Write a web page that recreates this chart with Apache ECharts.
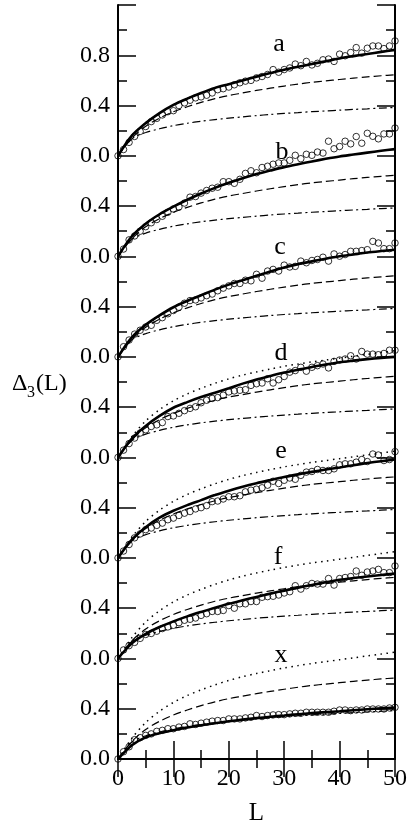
<!DOCTYPE html>
<html><head><meta charset="utf-8">
<script src="https://cdn.jsdelivr.net/npm/echarts@6/dist/echarts.min.js"></script>
<style>html,body{margin:0;padding:0;background:#fff}#c{width:411px;height:831px}</style>
</head><body><div id="c"></div>
<script>
// L values at which the model curves were read (uniform grid)
const L_CURVE = [0, 2.5, 5, 7.5, 10, 12.5, 15, 17.5, 20, 22.5, 25, 27.5, 30, 32.5, 35, 37.5, 40, 42.5, 45, 47.5, 50];
// common reference curves (same in every panel)
const dashDot = [0, 0.135, 0.185, 0.215, 0.24, 0.259, 0.275, 0.288, 0.30, 0.31, 0.32, 0.329, 0.337, 0.344, 0.351, 0.357, 0.363, 0.369, 0.374, 0.38, 0.385];
const dashed  = [0, 0.14, 0.235, 0.30, 0.35, 0.39, 0.425, 0.455, 0.48, 0.50, 0.52, 0.538, 0.555, 0.571, 0.585, 0.596, 0.607, 0.618, 0.628, 0.637, 0.645];
const dotted  = [0, 0.165, 0.29, 0.38, 0.45, 0.505, 0.55, 0.59, 0.625, 0.655, 0.68, 0.703, 0.725, 0.743, 0.76, 0.775, 0.79, 0.805, 0.82, 0.835, 0.85];
// solid fitted curves per panel
const solidA = [0, 0.16, 0.26, 0.34, 0.405, 0.455, 0.50, 0.54, 0.57, 0.60, 0.63, 0.658, 0.685, 0.708, 0.73, 0.753, 0.775, 0.793, 0.81, 0.827, 0.843];
const solidB = [0, 0.16, 0.26, 0.335, 0.395, 0.45, 0.50, 0.545, 0.585, 0.622, 0.655, 0.683, 0.71, 0.733, 0.755, 0.776, 0.795, 0.81, 0.825, 0.84, 0.853];
const solidC = [0, 0.155, 0.255, 0.33, 0.395, 0.445, 0.49, 0.535, 0.575, 0.61, 0.645, 0.68, 0.712, 0.738, 0.76, 0.781, 0.80, 0.815, 0.83, 0.842, 0.853];
const solidD = [0, 0.15, 0.25, 0.33, 0.395, 0.44, 0.48, 0.515, 0.55, 0.587, 0.62, 0.648, 0.675, 0.698, 0.72, 0.739, 0.757, 0.77, 0.782, 0.792, 0.80];
const solidE = [0, 0.145, 0.245, 0.32, 0.375, 0.42, 0.46, 0.50, 0.535, 0.567, 0.595, 0.62, 0.644, 0.665, 0.685, 0.703, 0.72, 0.738, 0.755, 0.77, 0.783];
const solidF = [0, 0.12, 0.195, 0.25, 0.295, 0.335, 0.37, 0.403, 0.435, 0.463, 0.49, 0.516, 0.54, 0.563, 0.585, 0.606, 0.626, 0.64, 0.652, 0.664, 0.675];
const solidX = [0, 0.11, 0.172, 0.205, 0.228, 0.25, 0.268, 0.285, 0.30, 0.313, 0.325, 0.336, 0.346, 0.356, 0.365, 0.373, 0.38, 0.388, 0.396, 0.403, 0.41];
// data points at L = 0,1,...,50
const circA = [0, 0.05,0.107,0.154,0.194,0.233,0.272,0.298,0.325,0.351,0.359, 0.40,0.421,0.442,0.461,0.469,0.482,0.50,0.526,0.534,0.547, 0.565,0.581,0.594,0.60,0.62,0.631,0.647,0.686,0.665,0.686, 0.699,0.73,0.717,0.751,0.723,0.736,0.764,0.77,0.751,0.809, 0.796,0.822,0.861,0.817,0.856,0.874,0.874,0.853,0.874,0.914];
const circB = [0, 0.058,0.131,0.162,0.20,0.236,0.267,0.293,0.319,0.351,0.377, 0.393,0.424,0.471,0.476,0.503,0.524,0.542,0.55,0.594,0.594, 0.581,0.613,0.66,0.681,0.665,0.707,0.717,0.733,0.743,0.743, 0.764,0.804,0.777,0.812,0.804,0.83,0.822,0.916,0.856,0.874, 0.916,0.895,0.953,0.90,0.979,0.955,0.935,0.974,0.974,1.021];
const circC = [0, 0.081,0.134,0.181,0.212,0.238,0.251,0.291,0.312,0.343,0.369, 0.395,0.427,0.448,0.453,0.469,0.487,0.50,0.526,0.547,0.565, 0.584,0.584,0.61,0.605,0.657,0.626,0.683,0.696,0.683,0.73, 0.715,0.72,0.762,0.749,0.767,0.775,0.793,0.762,0.819,0.801, 0.814,0.84,0.84,0.846,0.853,0.919,0.906,0.861,0.861,0.906];
const circD = [0, 0.058,0.11,0.154,0.194,0.22,0.246,0.259,0.277,0.325,0.33, 0.351,0.372,0.39,0.403,0.435,0.455,0.469,0.476,0.495,0.521, 0.529,0.534,0.539,0.573,0.586,0.592,0.626,0.592,0.618,0.644, 0.678,0.691,0.717,0.686,0.717,0.73,0.743,0.712,0.764,0.775, 0.783,0.809,0.783,0.843,0.822,0.822,0.817,0.827,0.853,0.853];
const circE = [0, 0.055,0.107,0.16,0.191,0.225,0.238,0.259,0.277,0.304,0.317, 0.338,0.356,0.369,0.39,0.40,0.416,0.448,0.453,0.469,0.487, 0.487,0.495,0.526,0.539,0.547,0.558,0.579,0.61,0.592,0.618, 0.636,0.626,0.657,0.683,0.688,0.704,0.696,0.696,0.709,0.741, 0.749,0.749,0.762,0.783,0.767,0.827,0.819,0.775,0.783,0.846];
const circF = [0, 0.068,0.102,0.128,0.16,0.191,0.199,0.217,0.238,0.251,0.264, 0.285,0.304,0.312,0.322,0.343,0.356,0.374,0.374,0.382,0.421, 0.40,0.435,0.435,0.453,0.453,0.487,0.492,0.495,0.505,0.521, 0.531,0.579,0.552,0.579,0.597,0.592,0.592,0.636,0.584,0.636, 0.644,0.652,0.696,0.662,0.688,0.696,0.709,0.683,0.683,0.736];
const circX = [0, 0.058,0.097,0.154,0.17,0.188,0.20,0.22,0.228,0.241,0.241, 0.254,0.259,0.28,0.275,0.285,0.293,0.301,0.306,0.306,0.319, 0.319,0.319,0.327,0.332,0.346,0.338,0.346,0.351,0.353,0.353, 0.359,0.364,0.364,0.372,0.372,0.372,0.372,0.372,0.38,0.39, 0.39,0.385,0.39,0.39,0.398,0.398,0.398,0.398,0.406,0.411];

const panelNames = ['a','b','c','d','e','f','x'];
const panelShift = [4.8, 4.0, 3.2, 2.4, 1.6, 0.8, 0];
const solids = [solidA, solidB, solidC, solidD, solidE, solidF, solidX];
const circles = [circA, circB, circC, circD, circE, circF, circX];
const hasDotted = [false, false, false, true, true, true, true];
const xTicks = [0, 10, 20, 30, 40, 50];

const FONT = '"Liberation Serif", "DejaVu Serif", serif';
const series = [];
function curve(vals, shift, style, z) {
  return {
    type: 'line', data: L_CURVE.map((l, i) => [l, vals[i] + shift]),
    showSymbol: false, smooth: 0.3, silent: true,
    lineStyle: Object.assign({ color: '#000' }, style), z: z
  };
}
panelNames.forEach((p, k) => {
  const s = panelShift[k];
  series.push({
    type: 'scatter', data: circles[k].map((v, i) => [i, v + s]),
    symbol: 'circle', symbolSize: 6.5, silent: true, z: 2,
    itemStyle: { color: 'rgba(0,0,0,0)', borderColor: '#000', borderWidth: 1 }
  });
  series.push(curve(dashDot, s, { width: 1.2, type: [8, 3.5, 2, 3.5] }, 3));
  series.push(curve(dashed, s, { width: 1.2, type: [8, 4] }, 3));
  if (hasDotted[k]) series.push(curve(dotted, s, { width: 1.5, type: [1.5, 4.5] }, 3));
  series.push(curve(solids[k], s, { width: 2.6 }, 4));
});

const axisCommonX = {
  type: 'value', min: 0, max: 50, interval: 10,
  axisLine: { show: true, lineStyle: { color: '#000', width: 2 } },
  axisTick: { show: true, inside: true, length: 18, lineStyle: { color: '#000', width: 1.5 } },
  minorTick: { show: true, splitNumber: 2, length: 9, lineStyle: { color: '#000', width: 1.5 } },
  splitLine: { show: false }, minorSplitLine: { show: false }
};
const axisCommonY = {
  type: 'value', min: 0, max: 6, interval: 0.4,
  axisLine: { show: true, onZero: false, lineStyle: { color: '#000', width: 2 } },
  axisTick: { show: true, inside: true, length: 18, lineStyle: { color: '#000', width: 1.5 } },
  minorTick: { show: true, splitNumber: 2, length: 9, lineStyle: { color: '#000', width: 1.5 } },
  splitLine: { show: false }, minorSplitLine: { show: false }
};

const letterPos = [[279, 44], [282, 152], [280, 247], [281, 353], [281, 451], [278, 557], [281, 655]];
const graphics = panelNames.map((p, k) => ({
  type: 'text', x: letterPos[k][0], y: letterPos[k][1], z: 10,
  style: { text: p, font: '26px ' + FONT, fill: '#000', align: 'center', verticalAlign: 'middle' }
}));
graphics.push({ type: 'text', x: 12, y: 384, style: { text: 'Δ', font: '24px ' + FONT, fill: '#000', align: 'left', verticalAlign: 'middle' } });
graphics.push({ type: 'text', x: 27, y: 393, style: { text: '3', font: '16px ' + FONT, fill: '#000', align: 'left', verticalAlign: 'middle' } });
graphics.push({ type: 'text', x: 36, y: 384, style: { text: '(L)', font: '24px ' + FONT, fill: '#000', align: 'left', verticalAlign: 'middle' } });

const chart = echarts.init(document.getElementById('c'), null, { renderer: 'canvas' });
chart.setOption({
  animation: false,
  backgroundColor: '#fff',
  grid: { left: 118, right: 16, top: 5, bottom: 62, containLabel: false },
  xAxis: [
    Object.assign({}, axisCommonX, {
      position: 'bottom', name: 'L', nameLocation: 'middle', nameGap: 42,
      nameTextStyle: { fontFamily: FONT, fontSize: 25, color: '#000' },
      axisLabel: { show: true, margin: 8, fontFamily: FONT, fontSize: 24, color: '#000',
        formatter: v => xTicks.indexOf(Math.round(v)) >= 0 ? String(Math.round(v)) : '' }
    }),
    Object.assign({}, axisCommonX, { position: 'top', axisLabel: { show: false } })
  ],
  yAxis: [
    Object.assign({}, axisCommonY, {
      position: 'left',
      axisLabel: { show: true, margin: 8, fontFamily: FONT, fontSize: 24, color: '#000',
        formatter: function (v) {
          const t = Math.round(v * 10);
          if (t >= 59) return '';
          if (t === 56) return '0.8';
          return (t % 8 === 0) ? '0.0' : '0.4';
        } }
    }),
    Object.assign({}, axisCommonY, { position: 'right', axisLabel: { show: false } })
  ],
  series: series,
  graphic: graphics
});
</script></body></html>
